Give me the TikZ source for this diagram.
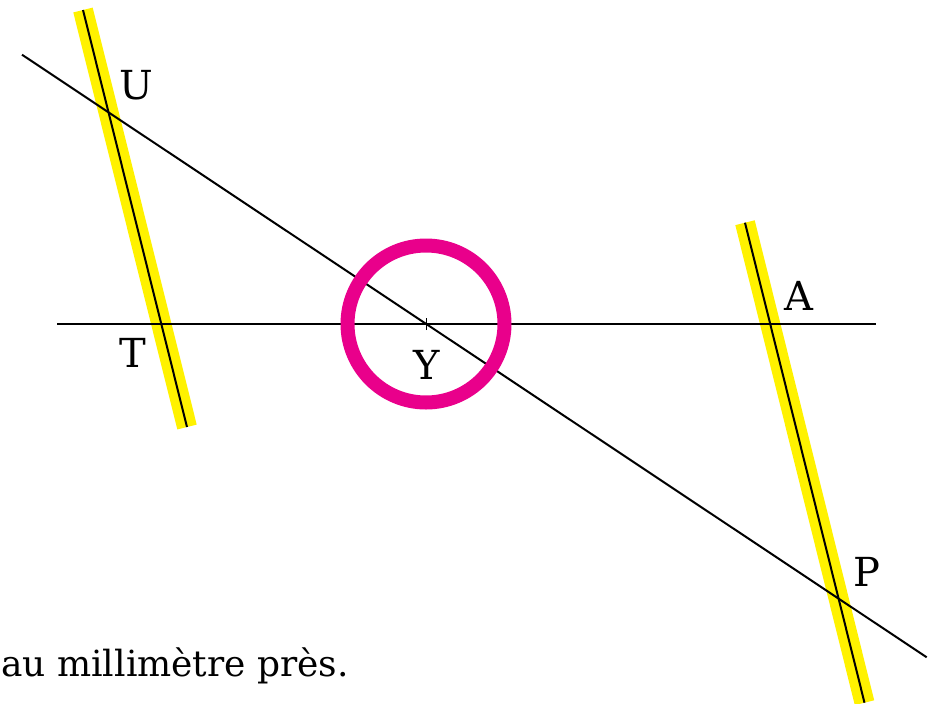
\documentclass[tikz,border=0pt]{standalone}
\usepackage{fontspec}
\setmainfont{DejaVu Serif}
\begin{document}
\begin{tikzpicture}[x=0.75pt,y=-0.75pt,
  thinline/.style={black,line width=1.5pt},
  hilite/.style={yellowband,line width=15pt},
  ring/.style={draw=ringcol,line width=10.5pt},
  lbl/.style={font=\fontsize{30}{36}\selectfont,inner sep=0pt}]
\definecolor{yellowband}{RGB}{255,242,0}
\definecolor{ringcol}{RGB}{233,0,139}
\useasboundingbox (0,0) rectangle (940,704);
\clip (0,0) rectangle (940,704);
% points
\coordinate (L1) at (22,54.7);
\coordinate (L2) at (926.7,657.3);
\coordinate (H1) at (57,324);
\coordinate (H2) at (876,324);
\coordinate (Y) at (426,324);
\coordinate (a1) at (83,10);
\coordinate (a2) at (187,427);
\coordinate (b1) at (745,222.7);
\coordinate (b2) at (864.5,702.7);
% yellow bands
\draw[hilite] (a1) -- (a2);
\draw[hilite] (b1) -- (b2);
% lines
\draw[thinline] (a1) -- (a2);
\draw[thinline] (b1) -- (b2);
\draw[thinline] (L1) -- (L2);
\draw[thinline] (H1) -- (H2);
\draw[black,line width=0.5pt] ([yshift=-4.5pt]Y) -- ([yshift=4.5pt]Y);
% circle
\draw[ring] (Y) circle[radius=78.5];
% labels
\node[lbl] (U) at (136,85) {U};
\node[lbl] (T) at (132.5,353) {T};
\node[lbl] (Yl) at (426.5,365) {Y};
\node[lbl] (A) at (798.5,296) {A};
\node[lbl] (P) at (867,571.7) {P};
\node[anchor=base west,inner sep=0pt,font=\fontsize{27}{33}\selectfont] (txt) at (1,676.7) {au millimètre près.};
\end{tikzpicture}
\end{document}
